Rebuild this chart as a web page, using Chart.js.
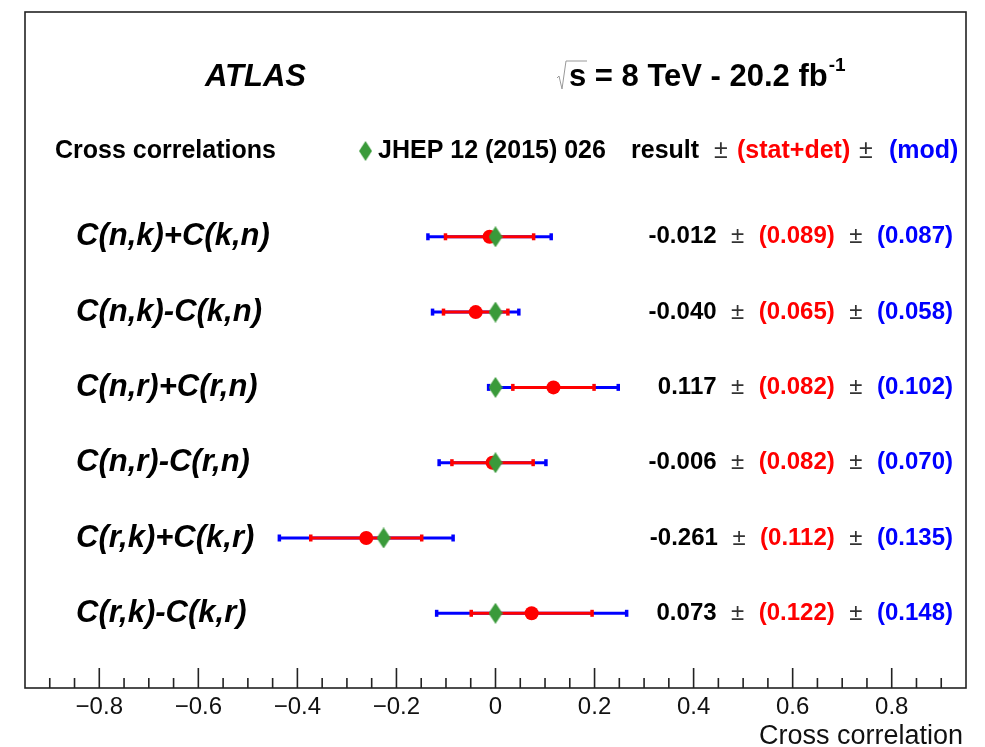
<!DOCTYPE html>
<html lang="en">
<head>
<meta charset="UTF-8">
<title>Cross correlations</title>
<script src="https://cdn.jsdelivr.net/npm/chart.js"></script>
<style>
    body { margin: 0; background: #fff; }
    #wrap { width: 985px; height: 747px; }
</style>
</head>
<body>
<div id="wrap"><canvas id="grafico" width="985" height="747"></canvas></div>
<script>
// measured cross correlations, one row per pair
const rowLabels = ['C(n,k)+C(k,n)', 'C(n,k)-C(k,n)', 'C(n,r)+C(r,n)', 'C(n,r)-C(r,n)', 'C(r,k)+C(k,r)', 'C(r,k)-C(k,r)'];
const results = [-0.012, -0.040, 0.117, -0.006, -0.261, 0.073];
const statDet = [0.089, 0.065, 0.082, 0.082, 0.112, 0.122];
const modErr = [0.087, 0.058, 0.102, 0.070, 0.135, 0.148];
// previous measurement (JHEP 12 (2015) 026)
const jhep = [0, 0, 0, 0, -0.226, 0];

const xTickLabels = [-0.8, -0.6, -0.4, -0.2, 0, 0.2, 0.4, 0.6, 0.8];
const xMin = -0.95, xMax = 0.95;

const FONT = "'Liberation Sans', Arial, Helvetica, sans-serif";
const VERDE = '#3a9a3a';

function losango(w, h, cor) {
    const c = document.createElement('canvas');
    c.width = w;
    c.height = h;
    const g = c.getContext('2d');
    g.fillStyle = cor;
    g.beginPath();
    g.moveTo(w / 2, 0);
    g.lineTo(w, h / 2);
    g.lineTo(w / 2, h);
    g.lineTo(0, h / 2);
    g.closePath();
    g.fill();
    return c;
}
const diamante = losango(14, 21, VERDE);

function barra(i, meia, cor, ordem) {
    return {
        data: [{ x: results[i] - meia, y: i }, { x: results[i] + meia, y: i }],
        showLine: true,
        borderColor: cor,
        borderWidth: 3,
        pointStyle: 'line',
        rotation: 90,
        pointRadius: 3.5,
        pointBorderWidth: 3.5,
        pointBorderColor: cor,
        order: ordem
    };
}

const datasets = [];
results.forEach((v, i) => {
    datasets.push(barra(i, Math.hypot(statDet[i], modErr[i]), '#0000ff', 4));
    datasets.push(barra(i, statDet[i], '#ff0000', 3));
});
datasets.push({
    data: results.map((v, i) => ({ x: v, y: i })),
    pointStyle: 'circle',
    pointRadius: 7,
    pointBorderWidth: 0,
    backgroundColor: '#ff0000',
    order: 2
});
datasets.push({
    data: jhep.map((v, i) => ({ x: v, y: i })),
    pointStyle: diamante,
    pointRadius: 6,
    order: 1
});

function texto(ctx, s, x, y, fonte, cor, alinh) {
    ctx.font = fonte;
    ctx.fillStyle = cor;
    ctx.textAlign = alinh || 'left';
    ctx.textBaseline = 'middle';
    ctx.fillText(s, x, y);
}

const moldura = {
    id: 'moldura',
    afterDraw(chart) {
        const { ctx, chartArea: a, scales: { x, y } } = chart;
        ctx.save();

        // frame and inward ticks
        ctx.strokeStyle = '#222';
        ctx.lineWidth = 1.6;
        ctx.strokeRect(a.left, a.top, a.right - a.left, a.bottom - a.top);
        ctx.beginPath();
        for (let k = -18; k <= 18; k++) {
            const v = k * 0.05;
            const px = x.getPixelForValue(v);
            const len = (k % 4 === 0) ? 20 : 10;
            ctx.moveTo(px, a.bottom);
            ctx.lineTo(px, a.bottom - len);
        }
        ctx.stroke();

        xTickLabels.forEach(v => {
            const s = v === 0 ? '0' : v.toFixed(1).replace('-', '\u2212');
            texto(ctx, s, x.getPixelForValue(v), 707, '24px ' + FONT, '#111', 'center');
        });
        ctx.font = '27px ' + FONT;
        ctx.textAlign = 'right';
        ctx.textBaseline = 'alphabetic';
        ctx.fillText('Cross correlation', 963, 744);

        // title
        texto(ctx, 'ATLAS', 205, 77, 'italic bold 31px ' + FONT, '#000');
        const energia = 's = 8 TeV - 20.2 fb';
        texto(ctx, energia, 569, 77, 'bold 31px ' + FONT, '#000');
        const fim = 569 + ctx.measureText(energia).width;
        texto(ctx, '-1', fim + 1, 66, 'bold 19px ' + FONT, '#000');
        ctx.strokeStyle = '#999';
        ctx.lineWidth = 1;
        ctx.beginPath();
        ctx.moveTo(557, 78);
        ctx.lineTo(559, 76);
        ctx.lineTo(562, 89);
        ctx.lineTo(566, 61);
        ctx.lineTo(587, 61);
        ctx.stroke();

        // header row
        const hy = 151;
        const hb = 'bold 25px ' + FONT;
        texto(ctx, 'Cross correlations', 55, hy, hb, '#000');
        ctx.drawImage(diamante, 366 - 7, hy - 10, 13, 20);
        texto(ctx, 'JHEP 12 (2015) 026', 378, hy, hb, '#000');
        texto(ctx, 'result', 631, hy, hb, '#000');
        texto(ctx, '\u00b1', 714, hy, '25px ' + FONT, '#333');
        texto(ctx, '(stat+det)', 737, hy, hb, '#ff0000');
        texto(ctx, '\u00b1', 859, hy, '25px ' + FONT, '#333');
        texto(ctx, '(mod)', 889, hy, hb, '#0000ff');

        // row labels and values
        const fb = 'bold 24px ' + FONT;
        const fn = '24px ' + FONT;
        results.forEach((v, i) => {
            const py = y.getPixelForValue(i);
            texto(ctx, rowLabels[i], 76, py, 'italic bold 31px ' + FONT, '#000');
            const partes = [
                [v.toFixed(3), fb, '#000'],
                ['\u00b1', fn, '#333'],
                ['(' + statDet[i].toFixed(3) + ')', fb, '#ff0000'],
                ['\u00b1', fn, '#333'],
                ['(' + modErr[i].toFixed(3) + ')', fb, '#0000ff']
            ];
            const gap = 14.5;
            let total = 0;
            partes.forEach(p => { ctx.font = p[1]; total += ctx.measureText(p[0]).width; });
            total += gap * (partes.length - 1);
            let px = 953 - total;
            partes.forEach(p => {
                texto(ctx, p[0], px, py, p[1], p[2]);
                ctx.font = p[1];
                px += ctx.measureText(p[0]).width + gap;
            });
        });
        ctx.restore();
    }
};

new Chart(document.getElementById('grafico'), {
    type: 'scatter',
    data: { datasets: datasets },
    options: {
        responsive: false,
        animation: false,
        events: [],
        layout: { padding: { left: 25, right: 19, top: 12, bottom: 59 } },
        plugins: { legend: { display: false }, tooltip: { enabled: false } },
        scales: {
            x: { type: 'linear', min: xMin, max: xMax, display: false },
            y: { type: 'linear', min: -2.985, max: 5.992, reverse: true, display: false }
        }
    },
    plugins: [moldura]
});
</script>
</body>
</html>
